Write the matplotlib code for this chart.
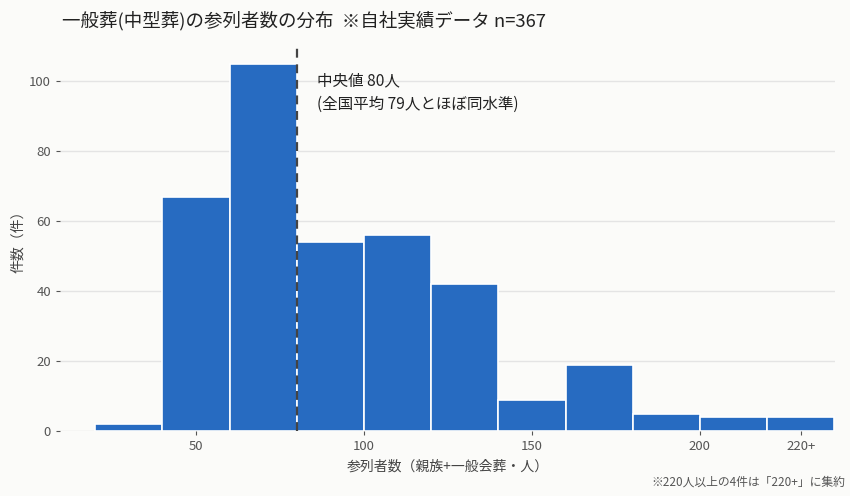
import numpy as np
import matplotlib
matplotlib.use('Agg')
import matplotlib.pyplot as plt

plt.rcParams['font.family'] = ['Noto Sans CJK JP', 'DejaVu Sans']

# ビン(20人刻み、最後は220+)と件数
bin_edges = [20, 40, 60, 80, 100, 120, 140, 160, 180, 200, 220, 240]
counts = [2, 67, 105, 54, 56, 42, 9, 19, 5, 4, 4]
median = 80
xtick_pos = [50, 100, 150, 200, 230]
xtick_labels = ['50', '100', '150', '200', '220+']
ytick_pos = [0, 20, 40, 60, 80, 100]

bg = '#fbfbf9'
bar_color = '#276bc1'

fig = plt.figure(figsize=(8.5, 4.96), dpi=100, facecolor=bg)
ax = fig.add_axes([0.0706, 0.131, 0.912, 0.778], facecolor=bg)

lefts = np.array(bin_edges[:-1])
widths = np.diff(bin_edges)
ax.bar(lefts, counts, width=widths, align='edge', color=bar_color,
       edgecolor='white', linewidth=1.2, zorder=2)

ax.axvline(median, color='#444444', linestyle=(0, (4, 3)), linewidth=1.6, zorder=3)
ax.text(86, 102.5, '中央値 80人\n(全国平均 79人とほぼ同水準)', fontsize=11.2,
        va='top', ha='left', color='#222222', linespacing=1.5)

ax.set_xlim(9.5, 240.3)
ax.set_ylim(0, 110.25)
ax.set_xticks(xtick_pos)
ax.set_xticklabels(xtick_labels)
ax.set_yticks(ytick_pos)
ax.grid(axis='y', color='#e4e4e4', linewidth=1, zorder=0)
ax.set_axisbelow(True)
for s in ax.spines.values():
    s.set_visible(False)
ax.tick_params(axis='both', colors='#555555', labelsize=9.5, length=3, width=0.8)

ax.set_xlabel('参列者数（親族+一般会葬・人）', fontsize=10, color='#444444', labelpad=5)
ax.set_ylabel('件数（件）', fontsize=10, color='#444444', labelpad=3)

fig.text(0.073, 0.958, '一般葬(中型葬)の参列者数の分布  ※自社実績データ n=367',
         fontsize=13.3, ha='left', va='center', color='#222222')
fig.text(0.994, 0.028, '※220人以上の4件は「220+」に集約', fontsize=8.5,
         ha='right', va='center', color='#555555')

fig.savefig('out.png', dpi=100, facecolor=bg)
